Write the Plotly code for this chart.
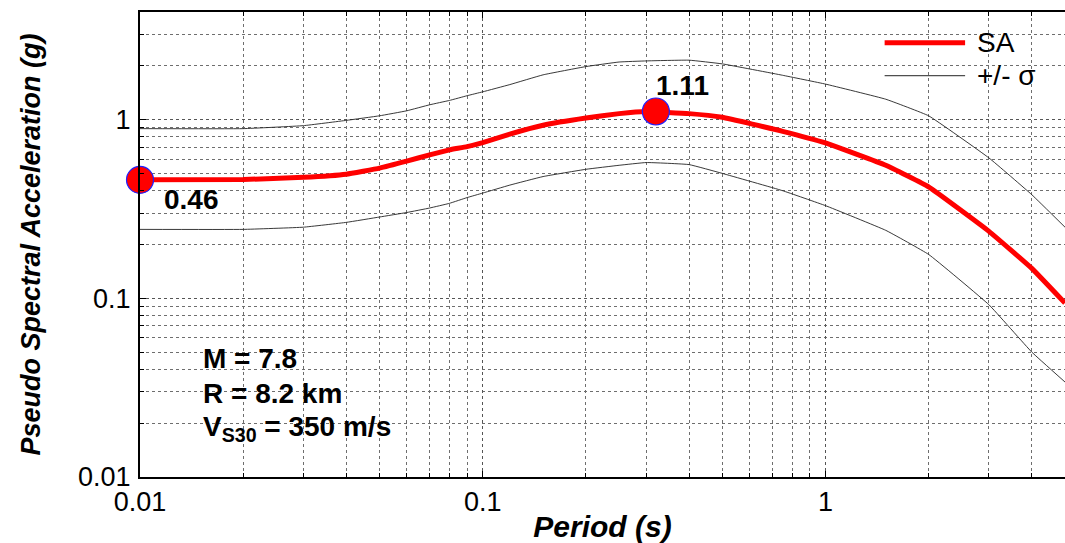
import numpy as np
import plotly.graph_objects as go

# ---- data ----
period = [0.01, 0.02, 0.03, 0.04, 0.05, 0.06, 0.07, 0.08, 0.09, 0.1, 0.12, 0.15,
          0.2, 0.25, 0.3, 0.4, 0.5, 0.75, 1.0, 1.5, 2.0, 3.0, 4.0, 5.0]
sa = [0.46, 0.462, 0.475, 0.495, 0.535, 0.585, 0.635, 0.677, 0.706, 0.744, 0.83, 0.93,
      1.02, 1.08, 1.11, 1.08, 1.03, 0.86, 0.74, 0.555, 0.42, 0.237, 0.147, 0.094]
sa_plus = [0.89, 0.89, 0.925, 0.99, 1.05, 1.12, 1.21, 1.28, 1.36, 1.43, 1.57, 1.78,
           1.98, 2.10, 2.13, 2.15, 2.05, 1.77, 1.58, 1.30, 1.05, 0.61, 0.38, 0.25]
sa_minus = [0.243, 0.243, 0.25, 0.266, 0.285, 0.302, 0.32, 0.34, 0.366, 0.388, 0.43, 0.48,
            0.527, 0.555, 0.575, 0.56, 0.50, 0.40, 0.33, 0.24, 0.176, 0.092, 0.05, 0.034]

pga_T, pga_SA = [0.01], [0.46]
peak_T, peak_SA = [0.32], [1.11]

x_tickvals = [0.01, 0.1, 1]
x_ticktext = ["0.01", "0.1", "1"]
y_tickvals = [0.01, 0.1, 1]
y_ticktext = ["0.01", "0.1", "1"]

legend_labels = ["SA", "+/- σ"]
info_lines = ["M = 7.8", "R = 8.2 km", "V<sub>S30</sub> = 350 m/s"]

FONT = "Liberation Sans, Arial, sans-serif"

fig = go.Figure()
fig.add_trace(go.Scatter(x=period, y=sa_plus, mode="lines", name="+σ",
                         line=dict(color="#222222", width=0.9, shape="spline", smoothing=0.3),
                         showlegend=False))
fig.add_trace(go.Scatter(x=period, y=sa_minus, mode="lines", name="-σ",
                         line=dict(color="#222222", width=0.9, shape="spline", smoothing=0.3),
                         showlegend=False))
fig.add_trace(go.Scatter(x=period, y=sa, mode="lines", name="SA",
                         line=dict(color="#ff0000", width=5, shape="spline", smoothing=0.3),
                         showlegend=False))
fig.add_trace(go.Scatter(x=pga_T + peak_T, y=pga_SA + peak_SA, mode="markers",
                         marker=dict(size=27, color="#ff0000",
                                     line=dict(color="#2020ff", width=1.2)),
                         cliponaxis=False, showlegend=False))

grid_major = dict(showgrid=True, gridcolor="#555555", griddash="dot", gridwidth=1)
minor = dict(dtick="D1", showgrid=True, gridcolor="#6e6e6e", griddash="dot",
             gridwidth=1, ticks="inside", ticklen=4, tickcolor="black")

fig.update_xaxes(type="log", range=[np.log10(0.01), np.log10(5)],
                 tickmode="array", tickvals=x_tickvals, ticktext=x_ticktext,
                 ticks="inside", ticklen=6, tickcolor="black",
                 showline=True, linecolor="black", linewidth=2, mirror="ticks",
                 minor=minor, **grid_major,
                 tickfont=dict(family=FONT, size=27, color="black"),
                 title=dict(text="<b><i>Period (s)</i></b>",
                            font=dict(family=FONT, size=30, color="black"),
                            standoff=4),
                 zeroline=False)
fig.update_yaxes(type="log", range=[np.log10(0.01), np.log10(4)],
                 tickmode="array", tickvals=y_tickvals, ticktext=y_ticktext,
                 ticks="inside", ticklen=6, tickcolor="black",
                 showline=True, linecolor="black", linewidth=2, mirror=False,
                 minor=minor, **grid_major,
                 tickfont=dict(family=FONT, size=27, color="black"),
                 ticklabelstandoff=2,
                 title=dict(text="<b><i>Pseudo Spectral Acceleration (g)</i></b>",
                            font=dict(family=FONT, size=27, color="black"),
                            standoff=30),
                 zeroline=False)

annotations = [
    dict(x=np.log10(pga_T[0]), y=np.log10(pga_SA[0]), xref="x", yref="y",
         text="<b>%.2f</b>" % pga_SA[0], showarrow=False, xanchor="left", yanchor="middle",
         xshift=22, yshift=-20, font=dict(family=FONT, size=28, color="black")),
    dict(x=np.log10(peak_T[0]), y=np.log10(peak_SA[0]), xref="x", yref="y",
         text="<b>%.2f</b>" % peak_SA[0], showarrow=False, xanchor="left", yanchor="middle",
         xshift=-2, yshift=26, font=dict(family=FONT, size=28, color="black")),
]
for i, t in enumerate(info_lines):
    annotations.append(dict(x=0.066, y=0.255 - i * 0.075, xref="paper", yref="paper",
                            text="<b>%s</b>" % t, showarrow=False, xanchor="left",
                            yanchor="middle", align="left",
                            font=dict(family=FONT, size=28, color="black")))

# custom legend (keys drawn as short lines in paper coords)
leg_y = [0.934, 0.863]
shapes = [
    dict(type="line", xref="paper", yref="paper", x0=0.805, x1=0.892, y0=leg_y[0], y1=leg_y[0],
         line=dict(color="#ff0000", width=5)),
    dict(type="line", xref="paper", yref="paper", x0=0.805, x1=0.892, y0=leg_y[1], y1=leg_y[1],
         line=dict(color="#222222", width=1)),
]
for lab, yy in zip(legend_labels, leg_y):
    annotations.append(dict(x=0.903, y=yy, xref="paper", yref="paper", text=lab,
                            showarrow=False, xanchor="left", yanchor="middle",
                            font=dict(family=FONT, size=28, color="black")))

fig.update_layout(width=1065, height=543,
                  margin=dict(l=140, r=0, t=12, b=66),
                  paper_bgcolor="white", plot_bgcolor="white",
                  showlegend=False, annotations=annotations, shapes=shapes,
                  font=dict(family=FONT, color="black"))

fig.write_html("out.html", config={"displayModeBar": False},
               post_script="document.body.style.margin='0';document.body.style.overflow='hidden';")
